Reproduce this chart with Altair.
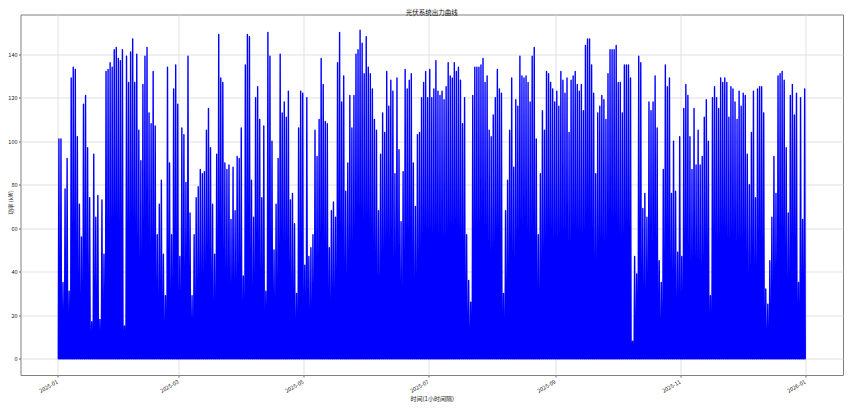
import altair as alt
import pandas as pd

# Daily peak output (kW), 2025-01-01 .. 2025-12-31
peaks = [
    101, 101, 35, 78, 92, 31, 129, 134, 133, 102,
    71, 56, 117, 121, 97, 74, 17, 94, 65, 75,
    18, 73, 48, 132, 133, 136, 134, 142, 143, 138,
    137, 142, 15, 139, 127, 141, 147, 127, 140, 105,
    91, 126, 139, 143, 113, 108, 132, 107, 57, 71,
    82, 48, 29, 134, 90, 57, 124, 135, 117, 47,
    106, 103, 81, 139, 67, 29, 57, 74, 79, 87,
    85, 86, 105,
    115, 97, 71, 48, 94, 149, 129, 127, 90, 87,
    89, 64, 88, 68, 93, 92, 106, 38, 135, 149,
    148, 82, 65, 120, 125, 110, 74, 107, 31, 150,
    139, 100, 50, 71, 92, 140, 113, 118, 111, 123,
    73, 76, 62, 30, 106, 123, 122, 43, 120, 47,
    51, 57, 105, 93, 110, 138, 126, 109, 108, 51,
    68, 72, 65, 136, 150, 118, 130, 77, 90, 121,
    106, 121, 140, 142,
    151, 145, 131, 148, 134, 131, 124, 110, 105, 68,
    94, 113, 104, 132, 116, 128, 123, 85, 129, 96,
    63, 86, 133, 124, 128, 131, 90, 70, 103, 104,
    120, 127, 132, 120, 133, 120, 124, 137, 123, 121,
    123, 119, 125, 136, 130, 129, 136, 132, 134, 128,
    108, 120, 57, 36, 26, 121, 134, 134, 134, 135,
    138, 127, 130, 105, 102, 112, 120, 133, 124, 122,
    30, 68, 82,
    105, 129, 88, 119, 116, 139, 130, 129, 130, 127,
    118, 139, 143, 101, 57, 85, 114, 105, 132, 131,
    127, 124, 118, 123, 116, 132, 128, 122, 129, 104,
    128, 130, 132, 126, 123, 126, 114, 144, 147, 147,
    135, 122, 85, 113, 116, 121, 119, 110, 131, 142,
    142, 142, 144, 127, 127, 113, 135, 135, 135, 129,
    8, 47, 39, 139, 136, 69, 76, 65, 118, 114,
    118, 130, 106,
    45, 35, 87, 135, 125, 129, 76, 100, 77, 49,
    102, 47, 115, 126, 121, 102, 87, 115, 89, 105,
    89, 93, 111, 119, 100, 29, 120, 125, 120, 115,
    129, 127, 129, 127, 111, 125, 124, 118, 110, 123,
    116, 122, 121, 94, 80, 104, 123, 74, 124, 125,
    125, 113, 32, 25, 45, 65, 93, 76, 130, 131,
    132, 128, 97, 67, 121, 126, 112, 122, 35, 120,
    64, 124,
]

# hours of each day: output zero at sunrise/sunset, peak at noon
sunrise_h, noon_h, sunset_h = 5, 12, 19
start = pd.Timestamp("2025-01-01")

rows = [{"t": start, "p": 0.0}]
for d, p in enumerate(peaks):
    day = start + pd.Timedelta(days=d)
    rows.append({"t": day + pd.Timedelta(hours=sunrise_h), "p": 0.0})
    rows.append({"t": day + pd.Timedelta(hours=noon_h), "p": float(p)})
    rows.append({"t": day + pd.Timedelta(hours=sunset_h), "p": 0.0})
rows.append({"t": start + pd.Timedelta(days=len(peaks) - 1, hours=23), "p": 0.0})
df = pd.DataFrame(rows)
df["t"] = df["t"].dt.strftime("%Y-%m-%dT%H:%M:%S")

tick_months = [(2025, 1), (2025, 3), (2025, 5), (2025, 7), (2025, 9), (2025, 11), (2026, 1)]
y_ticks = [0, 20, 40, 60, 80, 100, 120, 140]

FONT = "Noto Sans CJK SC"

x = alt.X(
    "t:T",
    title="时间(1小时间隔)",
    scale=alt.Scale(
        domain=[
            alt.DateTime(year=2024, month=12, date=13, hours=18),
            alt.DateTime(year=2026, month=1, date=19, hours=5),
        ]
    ),
    axis=alt.Axis(
        values=[alt.DateTime(year=yy, month=mm, date=1) for yy, mm in tick_months],
        format="%Y-%m",
        labelAngle=-30,
        labelAlign="right",
        labelBaseline="top",
        labelOffset=-2,
        labelFontSize=5.5,
        labelPadding=2,
        tickSize=2,
        titleFontSize=6,
        titleY=23.5,
        titleBaseline="middle",
        labelOverlap=False,
    ),
)

y = alt.Y(
    "p:Q",
    title="功率 (kW)",
    scale=alt.Scale(domain=[-7.5, 158.2], nice=False, zero=False),
    axis=alt.Axis(
        values=y_ticks,
        labelFontSize=5.5,
        labelPadding=1.5,
        tickSize=2,
        titleFontSize=5.5,
        titleX=-10,
        titleY=187.5,
        titleBaseline="middle",
        titleAlign="center",
    ),
)

chart = (
    alt.Chart(df)
    .mark_line(color="#0000ff", strokeWidth=1.4, strokeJoin="round")
    .encode(x=x, y=y)
    .properties(
        width=822.5,
        height=360.5,
        title=alt.TitleParams("光伏系统出力曲线", fontSize=6.5, offset=2, dy=3.5, font=FONT, fontWeight="normal", color="#111"),
        autosize=alt.AutoSizeParams(type="none"),
        padding={"left": 12.5, "top": 6.5, "right": 10, "bottom": 27},
    )
    .configure(background="white", font=FONT)
    .configure_view(stroke="#808080", strokeWidth=1)
    .configure_axis(
        domain=False,
        grid=True,
        gridColor="#d9d9d9",
        gridWidth=0.8,
        tickColor="#666666",
        labelColor="#222222",
        titleColor="#222222",
        labelFont=FONT,
        titleFont=FONT,
        titleFontWeight="normal",
    )
)

chart.save("out.html", embed_options={"renderer": "svg", "actions": False})
